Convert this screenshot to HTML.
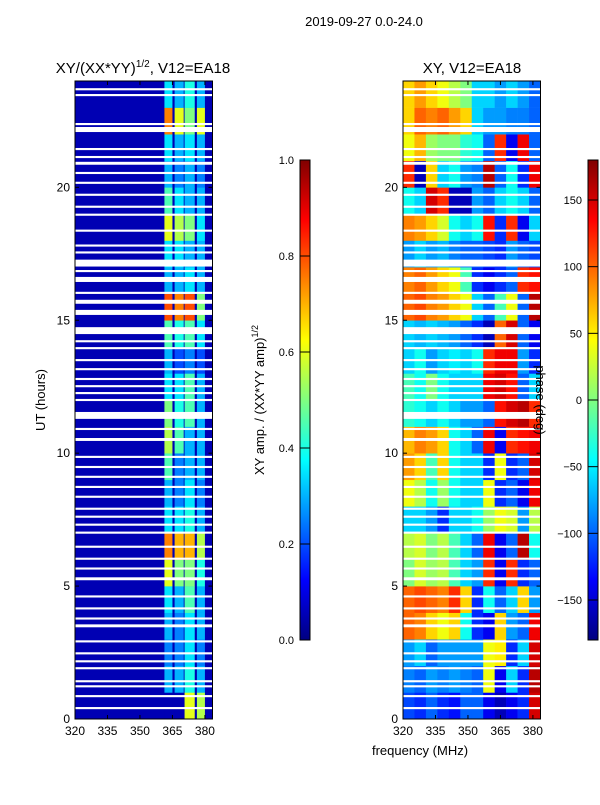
<!DOCTYPE html>
<html><head><meta charset="utf-8">
<style>
html,body{margin:0;padding:0;background:#fff;}
svg text{font-family:"Liberation Sans",sans-serif;fill:#000;}
</style></head>
<body>
<svg id="fig" width="600" height="800" xmlns="http://www.w3.org/2000/svg">
<rect x="0" y="0" width="600" height="800" fill="#fff"/>
<text x="364" y="26" font-size="13" text-anchor="middle">2019-09-27 0.0-24.0</text>
<text x="143" y="73" font-size="15" text-anchor="middle">XY/(XX*YY)<tspan font-size="10" dy="-6">1/2</tspan><tspan dy="6">, V12=EA18</tspan></text>
<text x="472" y="73" font-size="15" text-anchor="middle">XY, V12=EA18</text>
<g id="left"></g>
<g id="right"></g>
<g id="axes"></g>
<text transform="translate(45,400) rotate(-90)" font-size="13" text-anchor="middle">UT (hours)</text>
<text x="420" y="755" font-size="13" text-anchor="middle">frequency (MHz)</text>
<text transform="translate(264,400) rotate(-90)" font-size="13" text-anchor="middle">XY amp. / (XX*YY amp)<tspan font-size="9" dy="-6">1/2</tspan></text>
<text transform="translate(536,400) rotate(90)" font-size="13" text-anchor="middle">phase (deg)</text>
</svg>
<script>
// ---- data ----
const hours = [0,1,2,3,4,5,6,7,8,9,10,11,12,13,14,15,16,17,18,19,20,21,22,23];
const ampStripeLo = [361.3,366,370.6,376.3];
const ampStripeHi = [365,370.2,375.3,380];
const ampBase = 0.05;
const ampValues = [
[0.05,0.05,0.6,0.55],[0.3,0.3,0.4,0.3],[0.25,0.25,0.35,0.25],[0.3,0.25,0.35,0.3],
[0.35,0.3,0.45,0.3],[0.6,0.5,0.5,0.4],[0.75,0.7,0.7,0.55],[0.35,0.35,0.4,0.3],
[0.3,0.25,0.35,0.25],[0.45,0.25,0.3,0.3],[0.55,0.45,0.3,0.3],[0.5,0.4,0.45,0.3],
[0.35,0.35,0.45,0.3],[0.3,0.2,0.25,0.2],[0.45,0.4,0.45,0.35],[0.8,0.75,0.8,0.5],
[0.3,0.3,0.35,0.3],[0.35,0.35,0.3,0.3],[0.6,0.55,0.5,0.35],[0.45,0.35,0.3,0.3],
[0.3,0.25,0.3,0.25],[0.35,0.3,0.35,0.3],[0.75,0.6,0.5,0.6],[0.35,0.3,0.4,0.3]];
const phaseValues = [
[-110,-120,-100,-120,-130,-100,-100,-140,-160,-140,-120,150],
[-90,-100,-80,-90,-80,-90,-100,40,-140,-60,-120,160],
[-80,-60,-100,-80,-80,-80,-80,40,50,-120,-60,150],
[100,90,60,40,60,-40,-120,-140,60,-80,-100,140],
[100,110,100,90,120,60,-120,-40,-100,-60,60,-80],
[0,30,10,20,-20,-60,-80,120,-140,120,-120,-100],
[20,30,0,20,-20,-60,-100,140,-140,-100,160,-40],
[-60,-60,-80,-120,-60,-60,-40,10,40,30,-80,20],
[40,20,-40,10,-40,-60,-60,40,-120,-100,-140,140],
[80,60,-20,60,-40,-60,-60,-120,40,-120,-100,150],
[70,90,80,60,-40,-60,-100,140,-140,120,130,140],
[-30,-40,-60,-40,-60,-80,-80,-100,130,150,160,120],
[-20,-40,0,-40,-60,-60,-60,140,150,130,-100,-60],
[-60,-40,-80,-60,-50,-60,-40,120,140,140,-80,-120],
[-60,-70,-60,-70,-80,-100,-120,-160,100,150,-100,-140],
[100,110,90,80,60,40,-60,-100,-20,40,-100,160],
[90,100,80,60,40,-20,-120,-140,-120,-100,120,130],
[-80,-60,-80,-70,-90,-100,-100,-110,-120,-80,-100,-110],
[90,80,60,30,-40,-60,-40,130,-120,120,-140,-60],
[-40,-60,150,120,-160,-160,-80,-100,-60,-40,-60,-100],
[120,-160,60,-60,-40,-80,-90,160,-100,-40,-120,140],
[40,70,10,0,0,-30,-40,-100,120,-140,140,-100],
[60,100,90,100,80,60,-60,-80,-80,-90,-90,-100],
[60,80,60,40,20,0,-60,-60,-80,-60,-80,-100]];
const gapTop = [23.73,23.51,22.42,22.27,21.48,21.18,20.96,20.58,20.21,19.76,19.31,19.01,18.41,17.85,17.59,17.28,16.89,16.63,16.07,15.77,15.39,14.74,14.25,13.99,13.54,13.2,12.83,12.56,12.3,12.04,11.55,10.95,10.57,9.9,9.52,9.15,8.77,8.4,7.95,7.65,7.35,7.05,6.52,6.07,5.7,5.33,4.65,4.2,3.82,3.56,2.96,2.51,2.21,1.95,1.46,1.27,0.9,0.45];
const gapLen = [0.08,0.08,0.08,0.19,0.08,0.08,0.11,0.08,0.08,0.08,0.08,0.08,0.08,0.08,0.08,0.26,0.08,0.19,0.08,0.15,0.19,0.26,0.08,0.08,0.08,0.08,0.08,0.08,0.08,0.08,0.26,0.08,0.11,0.08,0.08,0.08,0.08,0.08,0.08,0.08,0.08,0.08,0.08,0.08,0.08,0.11,0.08,0.08,0.08,0.11,0.08,0.08,0.08,0.08,0.08,0.08,0.08,0.08];
const xTicks = [320,335,350,365,380];
const yTicks = [0,5,10,15,20];
const ampTicks = [0.0,0.2,0.4,0.6,0.8,1.0];
const phaseTicks = [-150,-100,-50,0,50,100,150];

// ---- layout ----
const NS="http://www.w3.org/2000/svg";
const fMin=320,fMax=383.5,axTop=81,axBot=719;
const panels=[{x0:75,x1:212.5},{x0:403,x1:540.5}];
function fx(p,f){return p.x0+(f-fMin)/(fMax-fMin)*(p.x1-p.x0);}
function hy(h){return axBot-h/24*(axBot-axTop);}
function jet(v){v=Math.max(0,Math.min(1,v));
 const r=Math.min(4*v-1.5,-4*v+4.5),g=Math.min(4*v-0.5,-4*v+3.5),b=Math.min(4*v+0.5,-4*v+2.5);
 const c=x=>Math.round(255*Math.max(0,Math.min(1,x)));return `rgb(${c(r)},${c(g)},${c(b)})`;}
function mk(tag,attrs,parent){const e=document.createElementNS(NS,tag);for(const k in attrs)e.setAttribute(k,attrs[k]);parent.appendChild(e);return e;}
const gL=document.getElementById('left'),gR=document.getElementById('right'),gA=document.getElementById('axes');

// left heatmap
const pl=panels[0];
const bg=mk('rect',{x:pl.x0,y:axTop,width:pl.x1-pl.x0,height:axBot-axTop,fill:jet(ampBase)},gL);


hours.forEach((h,i)=>{ampValues[i].forEach((v,j)=>{
 const x=fx(pl,ampStripeLo[j]),w=fx(pl,ampStripeHi[j])-x;
 const r=mk('rect',{x:x,y:hy(h+1),width:w,height:hy(h)-hy(h+1)+0.3,fill:jet(v)},gL);
 
 
});});
// right heatmap
const pr=panels[1];const nc=phaseValues[0].length,bw=(fMax-fMin)/nc;
hours.forEach((h,i)=>{phaseValues[i].forEach((v,j)=>{
 const x=fx(pr,fMin+j*bw),w=fx(pr,fMin+(j+1)*bw)-x;
 const r=mk('rect',{x:x,y:hy(h+1),width:w+0.3,height:hy(h)-hy(h+1)+0.3,fill:jet((v+180)/360)},gR);
 
 
});});
// flagged gaps
panels.forEach((p,pi)=>{gapTop.forEach((g,i)=>{
 const y=hy(g);
 const r=mk('rect',{x:p.x0,y:y,width:p.x1-p.x0,height:hy(g-gapLen[i])-y,fill:'#fff'},pi?gR:gL);
 
 
});});
// axes frames, ticks
panels.forEach((p,pi)=>{
 const fr=mk('rect',{x:p.x0,y:axTop,width:p.x1-p.x0,height:axBot-axTop,fill:'none',stroke:'#000','stroke-width':1},gA);
 
 
 xTicks.forEach(t=>{const x=fx(p,t);
  mk('line',{x1:x,x2:x,y1:axBot,y2:axBot-4,stroke:'#000'},gA);mk('line',{x1:x,x2:x,y1:axTop,y2:axTop+4,stroke:'#000'},gA);
  const tx=mk('text',{x:x,y:axBot+16,'font-size':12,'text-anchor':'middle'},gA);tx.textContent=t;
  
  });
 yTicks.forEach(t=>{const y=hy(t);
  mk('line',{x1:p.x0,x2:p.x0+4,y1:y,y2:y,stroke:'#000'},gA);mk('line',{x1:p.x1,x2:p.x1-4,y1:y,y2:y,stroke:'#000'},gA);
  const tx=mk('text',{x:p.x0-5,y:y+4,'font-size':12,'text-anchor':'end'},gA);tx.textContent=t;
  
  });
});
// colorbars
const defs=mk('defs',{},gA);const gr=mk('linearGradient',{id:'jetg',x1:0,y1:1,x2:0,y2:0},defs);
for(let k=0;k<=16;k++){mk('stop',{offset:k/16,'stop-color':jet(k/16)},gr);}
const cbs=[{x:300,ticks:ampTicks,lo:0,hi:1,name:'amp-colorbar',fmt:t=>t.toFixed(1)},{x:588,ticks:phaseTicks,lo:-180,hi:180,name:'phase-colorbar',fmt:t=>String(t).replace('-','\u2212')}];
cbs.forEach(c=>{
 const r=mk('rect',{x:c.x,y:160,width:10,height:480,fill:'url(#jetg)',stroke:'#000','stroke-width':1},gA);
 
 
 c.ticks.forEach(t=>{const y=640-(t-c.lo)/(c.hi-c.lo)*480;
  mk('line',{x1:c.x,x2:c.x+10,y1:y,y2:y,stroke:'#000'},gA);
  const tx=mk('text',{x:c.x-6,y:y+4,'font-size':11,'text-anchor':'end'},gA);tx.textContent=c.fmt(t);
  
  });
});
</script>
</body></html>
